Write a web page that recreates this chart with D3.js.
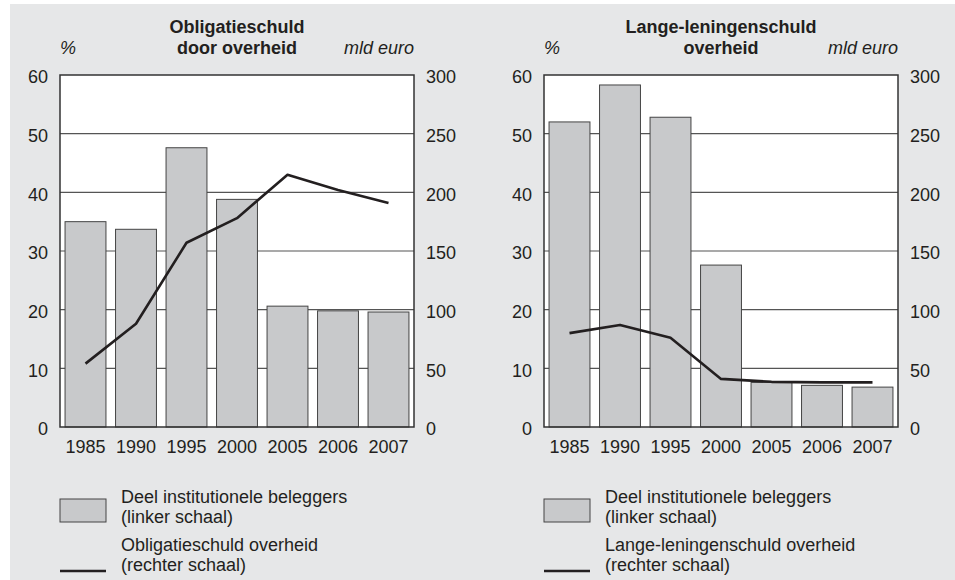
<!DOCTYPE html>
<html>
<head>
<meta charset="utf-8">
<script src="https://cdn.jsdelivr.net/npm/d3@7"></script>
<style>
    body { margin: 0; background: #fff; }
    svg { display: block; }
    text { font-family: "Liberation Sans", Arial, sans-serif; fill: #231f20; }
</style>
</head>
<body>
<div id="chart"></div>
<script>

// data
var years = ["1985", "1990", "1995", "2000", "2005", "2006", "2007"];

// left panel: obligatieschuld
var obligDeel = [35.0, 33.7, 47.6, 38.8, 20.6, 19.8, 19.6];      // % (linker schaal)
var obligSchuld = [54, 88, 157, 178, 215, 202, 191];            // mld euro (rechter schaal)

// right panel: lange-leningenschuld
var leningDeel = [52.0, 58.3, 52.8, 27.6, 7.6, 7.1, 6.8];        // %
var leningSchuld = [80, 87, 76, 41, 38.5, 38, 38];               // mld euro

var leftTicks = [0, 10, 20, 30, 40, 50, 60];
var rightTicks = [0, 50, 100, 150, 200, 250, 300];


var svg = d3.select("#chart").append("svg")
    .attr("width", 955)
    .attr("height", 580);

// grey page background
svg.append("rect")
    .attr("x", 10)
    .attr("y", 4)
    .attr("width", 945)
    .attr("height", 576)
    .attr("fill", "#e6e7e8");


/*
 * DualAxisChart - bars on the left scale, line on the right scale
 */

DualAxisChart = function(_svg, _left, _title, _bars, _line, _lineLabel){
    this.svg = _svg;
    this.left = _left;
    this.title = _title;
    this.bars = _bars;
    this.line = _line;
    this.lineLabel = _lineLabel;

    this.initVis();
}

DualAxisChart.prototype.initVis = function(){
    var vis = this;

    vis.top = 75;
    vis.width = 354;
    vis.height = 352;

    vis.g = vis.svg.append("g")
        .attr("transform", "translate(" + vis.left + "," + vis.top + ")");

    vis.x = d3.scaleBand()
        .domain(years)
        .range([0, vis.width])
        .paddingInner(0.19)
        .paddingOuter(0.1);

    vis.y = d3.scaleLinear()
        .domain([0, 60])
        .range([vis.height, 0]);

    vis.y2 = d3.scaleLinear()
        .domain([0, 300])
        .range([vis.height, 0]);

    vis.updateVis();
}

DualAxisChart.prototype.updateVis = function(){
    var vis = this;

    // plot area
    vis.g.append("rect")
        .attr("width", vis.width)
        .attr("height", vis.height)
        .attr("fill", "#fff");

    // gridlines
    vis.g.selectAll(".grid")
        .data(leftTicks.slice(1, -1))
        .enter().append("line")
        .attr("class", "grid")
        .attr("x1", 0)
        .attr("x2", vis.width)
        .attr("y1", function(d) { return vis.y(d); })
        .attr("y2", function(d) { return vis.y(d); })
        .attr("stroke", "#555")
        .attr("stroke-width", 1.2);

    // bars
    vis.g.selectAll(".bar")
        .data(vis.bars)
        .enter().append("rect")
        .attr("class", "bar")
        .attr("x", function(d, i) { return vis.x(years[i]); })
        .attr("width", vis.x.bandwidth())
        .attr("y", function(d) { return vis.y(d); })
        .attr("height", function(d) { return vis.height - vis.y(d); })
        .attr("fill", "#c8c9cb")
        .attr("stroke", "#444")
        .attr("stroke-width", 1);

    // frame
    vis.g.append("rect")
        .attr("width", vis.width)
        .attr("height", vis.height)
        .attr("fill", "none")
        .attr("stroke", "#333")
        .attr("stroke-width", 1.5);

    // line
    var line = d3.line()
        .x(function(d, i) { return vis.x(years[i]) + vis.x.bandwidth() / 2; })
        .y(function(d) { return vis.y2(d); });

    vis.g.append("path")
        .datum(vis.line)
        .attr("d", line)
        .attr("fill", "none")
        .attr("stroke", "#231f20")
        .attr("stroke-width", 2.6)
        .attr("stroke-linejoin", "round");

    // axes
    var yAxis = d3.axisLeft(vis.y).tickValues(leftTicks).tickSize(0).tickPadding(12);
    var y2Axis = d3.axisRight(vis.y2).tickValues(rightTicks).tickSize(0).tickPadding(12);
    var xAxis = d3.axisBottom(vis.x).tickSize(0).tickPadding(13.5);

    vis.g.append("g").attr("class", "yax").call(yAxis);
    vis.g.append("g").attr("class", "yax").attr("transform", "translate(" + vis.width + ",0)").call(y2Axis);
    vis.g.append("g").attr("transform", "translate(0," + vis.height + ")").call(xAxis);

    vis.g.selectAll(".domain").remove();
    vis.g.selectAll(".tick text")
        .attr("font-size", 18)
        .attr("font-family", "Liberation Sans, Arial, sans-serif")
        .attr("fill", "#231f20");
    vis.g.selectAll(".yax .tick text").attr("dy", "0.43em");

    // titles
    vis.g.selectAll(".title")
        .data(vis.title)
        .enter().append("text")
        .attr("class", "title")
        .attr("x", vis.width / 2)
        .attr("y", function(d, i) { return -42 + i * 21; })
        .attr("text-anchor", "middle")
        .attr("font-size", 18)
        .attr("font-weight", "bold")
        .text(function(d) { return d; });

    vis.g.append("text")
        .attr("x", 8)
        .attr("y", -21)
        .attr("text-anchor", "middle")
        .attr("font-size", 18)
        .attr("font-style", "italic")
        .text("%");

    vis.g.append("text")
        .attr("x", vis.width)
        .attr("y", -21)
        .attr("text-anchor", "end")
        .attr("font-size", 18)
        .attr("font-style", "italic")
        .text("mld euro");

    // legend
    var leg = vis.svg.append("g")
        .attr("transform", "translate(" + vis.left + ",0)");

    leg.append("rect")
        .attr("x", 0)
        .attr("y", 499)
        .attr("width", 46)
        .attr("height", 23)
        .attr("fill", "#c8c9cb")
        .attr("stroke", "#444")
        .attr("stroke-width", 1);

    leg.append("line")
        .attr("x1", 0)
        .attr("x2", 46)
        .attr("y1", 571)
        .attr("y2", 571)
        .attr("stroke", "#231f20")
        .attr("stroke-width", 2.6);

    var legText = ["Deel institutionele beleggers", "(linker schaal)", vis.lineLabel, "(rechter schaal)"];
    leg.selectAll(".legtext")
        .data(legText)
        .enter().append("text")
        .attr("class", "legtext")
        .attr("x", 61)
        .attr("y", function(d, i) { return 503 + i * 20 + (i > 1 ? 8 : 0); })
        .attr("font-size", 18)
        .text(function(d) { return d; });
}


new DualAxisChart(svg, 60, ["Obligatieschuld", "door overheid"], obligDeel, obligSchuld, "Obligatieschuld overheid");
new DualAxisChart(svg, 544, ["Lange-leningenschuld", "overheid"], leningDeel, leningSchuld, "Lange-leningenschuld overheid");

</script>
</body>
</html>
